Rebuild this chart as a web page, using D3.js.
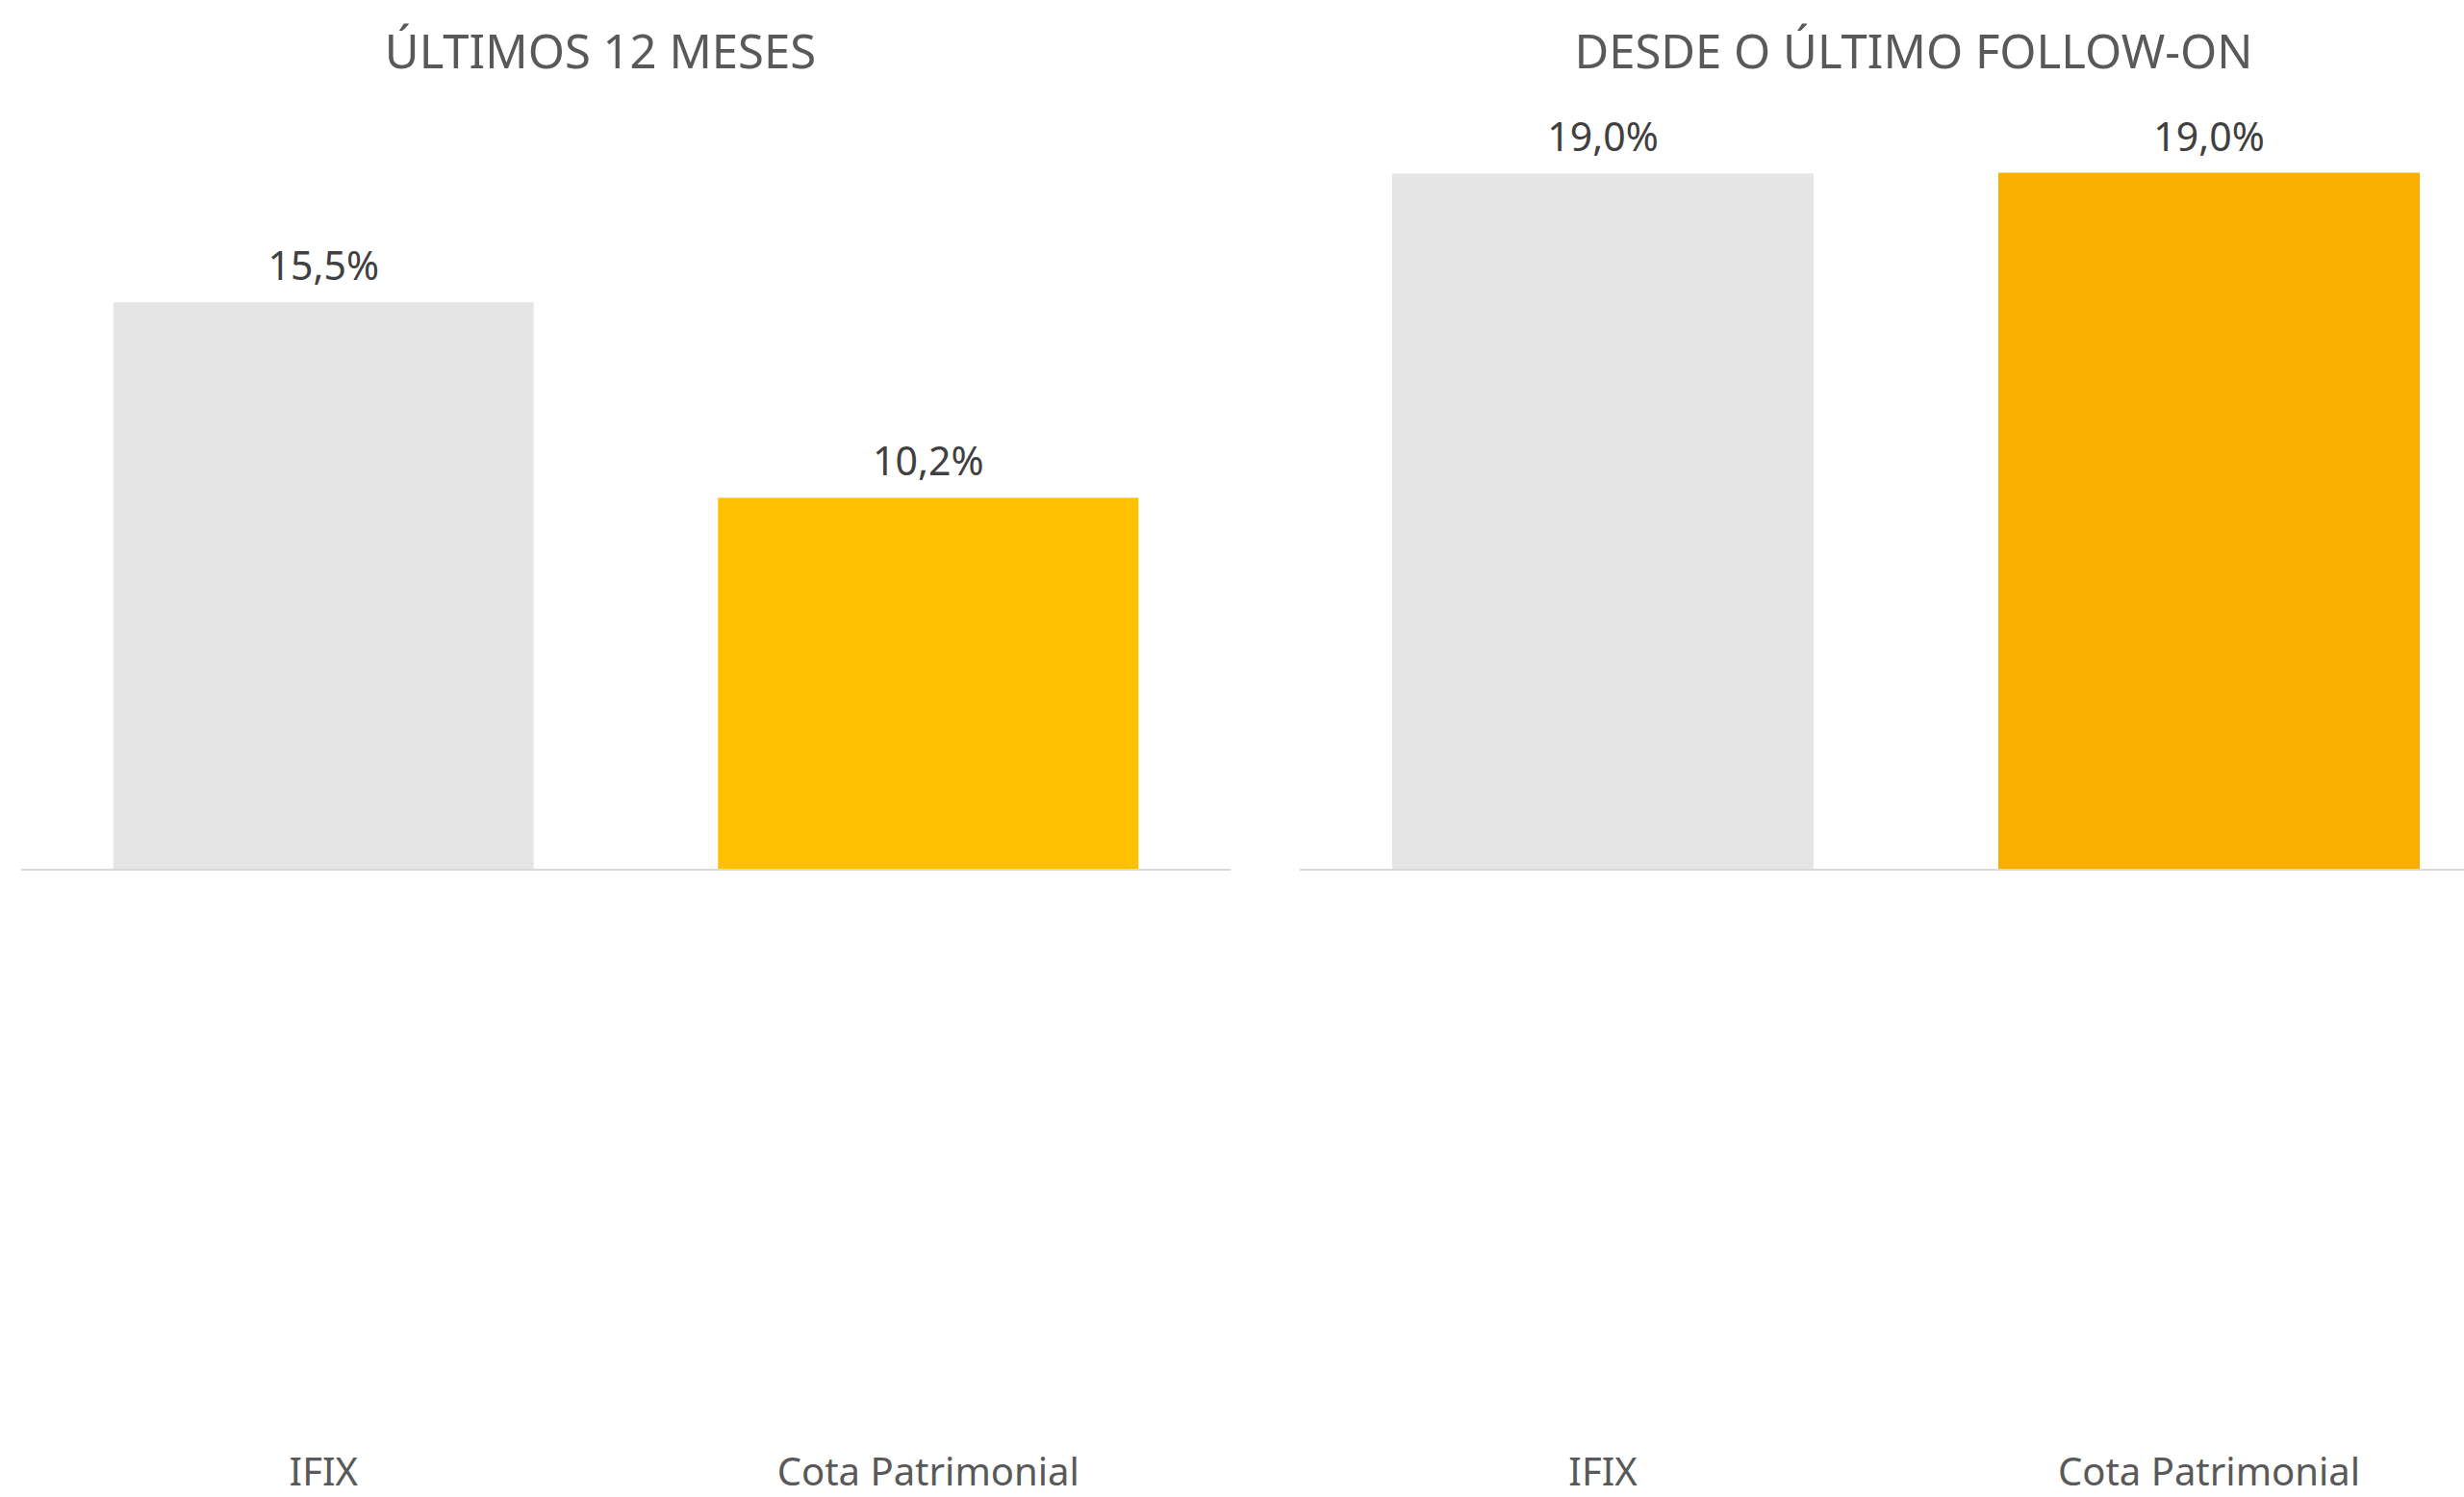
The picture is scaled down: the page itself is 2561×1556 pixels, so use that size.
<!DOCTYPE html>
<html>
<head>
<meta charset="utf-8">
<script src="https://cdn.jsdelivr.net/npm/d3@7"></script>
<style>
  html, body { margin: 0; padding: 0; background: #ffffff; }
  svg { display: block; }
  text { font-family: "Noto Sans", "Open Sans", sans-serif; }
</style>
</head>
<body>
<script>
// ---- data ----
const categories = ["IFIX", "Cota Patrimonial"];
const panelTitles = ["ÚLTIMOS 12 MESES", "DESDE O ÚLTIMO FOLLOW-ON"];
const valuesLast12Months = [15.5, 10.16];
const valuesSinceFollowOn = [19.02, 19.04];
const yDomain = [0, 20];

// ---- layout / style ----
const W = 2561, H = 1556;
const baseline = 904, yTop = 143;
const panels = [
  { title: panelTitles[0], values: valuesLast12Months, x0: 22, x1: 1279, titleX: 624,
    colors: ["#E5E5E5", "#FFC000"] },
  { title: panelTitles[1], values: valuesSinceFollowOn, x0: 1351, x1: 2611, titleX: 1989,
    colors: ["#E5E5E5", "#F9AF00"] }
];

const fmt = v => d3.format(".1f")(v).replace(".", ",") + "%";

const svg = d3.select("body").append("svg")
  .attr("width", W).attr("height", H)
  .attr("viewBox", `0 0 ${W} ${H}`);

const y = d3.scaleLinear().domain(yDomain).range([baseline, yTop]);

panels.forEach(p => {
  const g = svg.append("g");
  const x = d3.scaleBand().domain(categories).range([p.x0, p.x1])
    .paddingInner(0.3047).paddingOuter(0.3047 / 2);

  // title
  g.append("text")
    .attr("x", p.titleX).attr("y", 71)
    .attr("text-anchor", "middle")
    .attr("font-size", 49)
    .attr("fill", "#595959")
    .text(p.title);

  // bars
  g.selectAll("rect.bar").data(categories).join("rect")
    .attr("class", "bar")
    .attr("x", d => x(d))
    .attr("width", x.bandwidth())
    .attr("y", (d, i) => y(p.values[i]))
    .attr("height", (d, i) => y(0) - y(p.values[i]))
    .attr("fill", (d, i) => p.colors[i]);

  // x axis line + category labels
  const axis = d3.axisBottom(x).tickSize(0).tickPadding(0);
  const ax = g.append("g").attr("transform", `translate(0,${baseline})`).call(axis);
  ax.select(".domain").attr("stroke", "#D9D9D9").attr("stroke-width", 2)
    .attr("d", `M${p.x0},0H${Math.min(p.x1, W)}`);
  ax.selectAll(".tick text")
    .attr("y", 1544 - baseline)
    .attr("dy", 0)
    .attr("font-size", 40)
    .attr("font-family", "\"Noto Sans\", \"Open Sans\", sans-serif")
    .attr("fill", "#595959");

  // value labels
  g.selectAll("text.val").data(categories).join("text")
    .attr("class", "val")
    .attr("x", d => x(d) + x.bandwidth() / 2)
    .attr("y", (d, i) => y(p.values[i]) - 23)
    .attr("text-anchor", "middle")
    .attr("font-size", 41)
    .attr("fill", "#404040")
    .text((d, i) => fmt(p.values[i]));
});
</script>
</body>
</html>
